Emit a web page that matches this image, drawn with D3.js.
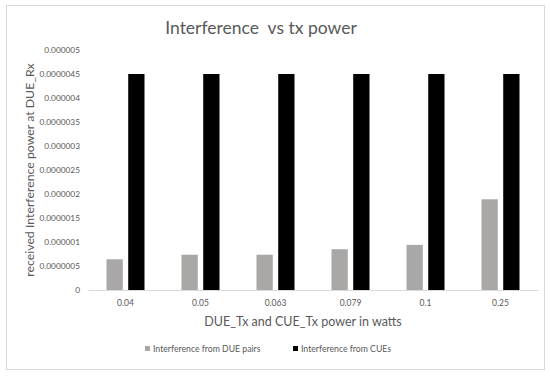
<!DOCTYPE html>
<html>
<head>
<meta charset="utf-8">
<script src="https://cdn.jsdelivr.net/npm/d3@7"></script>
<style>
  body { margin: 0; background: #fff; }
  text { font-family: Lato, "Open Sans", sans-serif; }
</style>
</head>
<body>
<div id="chart"></div>
<script>
'use strict';

const categories = ['0.04', '0.05', '0.063', '0.079', '0.1', '0.25'];
const seriesNames = ['Interference from DUE pairs', 'Interference from CUEs'];
const duePairs = [6.4e-7, 7.35e-7, 7.35e-7, 8.5e-7, 9.4e-7, 1.89e-6];
const cues = [4.5e-6, 4.5e-6, 4.5e-6, 4.5e-6, 4.5e-6, 4.5e-6];
const yTicks = [0, 5e-7, 1e-6, 1.5e-6, 2e-6, 2.5e-6, 3e-6, 3.5e-6, 4e-6, 4.5e-6, 5e-6];
const yTickLabels = ['0', '0.0000005', '0.000001', '0.0000015', '0.000002', '0.0000025',
                     '0.000003', '0.0000035', '0.000004', '0.0000045', '0.000005'];
const colors = ['#aaa8a6', '#000000'];

let width = 550, height = 376;

let svg = d3.select('#chart').append('svg')
  .attr('width', width)
  .attr('height', height);

// outer frame
svg.append('rect')
  .attr('x', 6.5).attr('y', 5.5)
  .attr('width', 538).attr('height', 364)
  .attr('fill', '#fff')
  .attr('stroke', '#d9d9d9');

let plotLeft = 88, plotRight = 538, plotTop = 50, plotBottom = 290;

let x0 = d3.scaleBand()
  .domain(categories)
  .range([plotLeft, plotRight]);

let x1 = d3.scaleBand()
  .domain(seriesNames)
  .range([0, 38])
  .paddingInner(0.25);

let y = d3.scaleLinear()
  .domain([0, 5e-6])
  .range([plotBottom, plotTop]);

// title (keeps the double space)
svg.append('text')
  .attr('x', 261).attr('y', 34)
  .attr('text-anchor', 'middle')
  .attr('font-size', 17.5)
  .attr('fill', '#595959')
  .style('white-space', 'pre')
  .text('Interference  vs tx power');

// y axis labels
let yAxis = d3.axisLeft(y)
  .tickValues(yTicks)
  .tickFormat((d, i) => yTickLabels[i])
  .tickSize(0)
  .tickPadding(8);

let gy = svg.append('g')
  .attr('transform', 'translate(' + plotLeft + ',0)')
  .call(yAxis);
gy.select('.domain').remove();
gy.selectAll('text')
  .attr('font-size', 8.3)
  .attr('fill', '#595959')
  .style('font-family', 'Lato, "Open Sans", sans-serif');

// bars
let data = categories.map((c, i) => ({
  category: c,
  values: [
    { key: seriesNames[0], value: duePairs[i] },
    { key: seriesNames[1], value: cues[i] }
  ]
}));

let groupOffset = (x0.bandwidth() - 38) / 2;

let groups = svg.selectAll('g.group')
  .data(data)
  .enter().append('g')
    .attr('class', 'group')
    .attr('transform', d => 'translate(' + (x0(d.category) + groupOffset) + ',0)');

groups.selectAll('rect')
  .data(d => d.values)
  .enter().append('rect')
    .attr('x', d => x1(d.key))
    .attr('y', d => y(d.value))
    .attr('width', x1.bandwidth())
    .attr('height', d => y(0) - y(d.value))
    .attr('fill', (d, i) => colors[i]);

// x axis
let xAxis = d3.axisBottom(x0)
  .tickSize(0)
  .tickPadding(10);

let gx = svg.append('g')
  .attr('transform', 'translate(0,' + plotBottom + ')')
  .call(xAxis);
gx.select('.domain').attr('stroke', '#d9d9d9');
gx.selectAll('text')
  .attr('font-size', 8.5)
  .attr('fill', '#595959')
  .style('font-family', 'Lato, "Open Sans", sans-serif');

// axis titles
svg.append('text')
  .attr('x', 303).attr('y', 326)
  .attr('text-anchor', 'middle')
  .attr('font-size', 12.5)
  .attr('fill', '#595959')
  .text('DUE_Tx and CUE_Tx power in watts');

svg.append('text')
  .attr('transform', 'translate(34,170) rotate(-90)')
  .attr('text-anchor', 'middle')
  .attr('font-size', 12.3)
  .attr('fill', '#595959')
  .text('received Interference power at DUE_Rx');

// legend
let legendX = [145, 293];
let legend = svg.selectAll('g.legend')
  .data(seriesNames)
  .enter().append('g')
    .attr('class', 'legend')
    .attr('transform', (d, i) => 'translate(' + legendX[i] + ',349)');

legend.append('rect')
  .attr('x', 0).attr('y', -3)
  .attr('width', 5).attr('height', 5)
  .attr('fill', (d, i) => colors[i]);

legend.append('text')
  .attr('x', 8).attr('y', 3)
  .attr('font-size', 8.7)
  .attr('fill', '#595959')
  .text(d => d);
</script>
</body>
</html>
